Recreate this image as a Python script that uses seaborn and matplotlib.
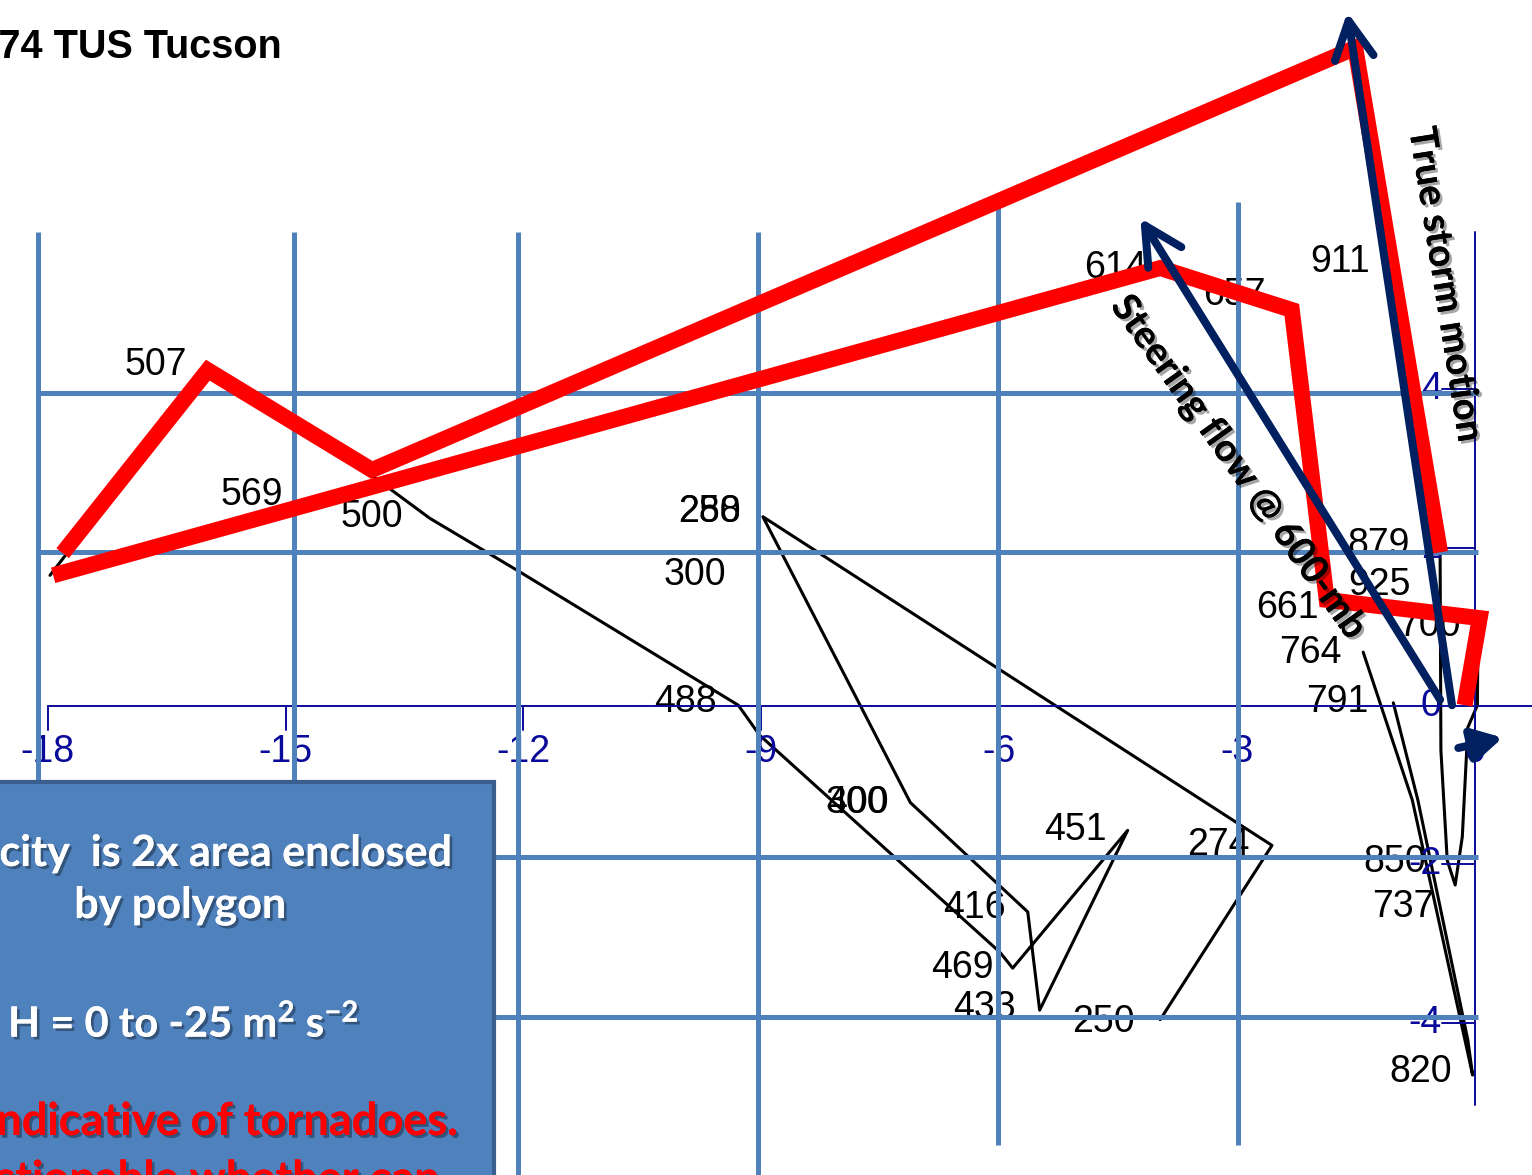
import matplotlib
matplotlib.use('Agg')
import matplotlib.pyplot as plt
import matplotlib.patheffects as pe
from matplotlib.patches import Rectangle
import seaborn as sns

# ==========================
# Hodograph data (m/s)
# ==========================
# upper levels, 500 mb down to 250 mb
upper_u = [-13.87, -13.18, -12.04, -9.29, -9.02, -5.99, -5.83, -4.38, -5.49, -5.64, -7.12, -8.98, -2.56, -3.97]
upper_v = [2.88, 2.37, 1.69, 0.01, -0.37, -3.11, -3.31, -1.57, -3.84, -2.60, -1.22, 2.39, -1.76, -3.96]
# mid levels (mostly under the red polygon)
mid_u = [-17.97, -15.95, -13.87]
mid_v = [1.65, 4.27, 2.88]
# low levels near the origin
low_u = [-0.44, -0.43, -0.35, -0.25, -0.16, -0.09, 0.03, 0.04]
low_v = [1.91, -0.56, -1.95, -2.26, -1.65, -0.27, 0.01, 1.09]
loop_u = [-1.41, -0.79, -0.03, -0.09, -0.72, -1.03]
loop_v = [0.68, -1.19, -4.66, -4.22, -1.19, 0.04]

level_lbl = ['507', '569', '500', '488', '300', '288', '400', '416', '469', '433', '451', '274', '250',
             '614', '657', '911', '879', '925', '700', '661', '764', '791', '850', '737', '820']
level_u = [-16.63, -15.42, -13.91, -9.96, -9.84, -9.65, -7.79, -6.31, -6.47, -6.18, -5.04, -3.24, -4.69,
           -4.54, -3.03, -1.70, -1.22, -1.20, -0.57, -2.36, -2.08, -1.74, -1.01, -0.91, -0.69]
level_v = [4.31, 2.66, 2.39, 0.05, 1.65, 2.45, -1.22, -2.55, -3.31, -3.81, -1.57, -1.76, -3.99,
           5.53, 5.19, 5.61, 2.03, 1.53, 1.01, 1.24, 0.67, 0.05, -1.97, -2.54, -4.62]
# overprinted labels
ghost_lbl = ['250', '300']
ghost_u = [-9.65, -7.79]
ghost_v = [2.45, -1.22]

# red helicity polygon
red1_u = [-17.81, -15.98, -13.91, -1.51, -0.44]
red1_v = [1.93, 4.24, 2.98, 8.31, 1.94]
red2_u = [-17.93, -3.97, -2.31, -1.87, 0.06, -0.13]
red2_v = [1.65, 5.53, 5.00, 1.34, 1.11, 0.01]

# arrows: (tail_u, tail_v, tip_u, tip_v)
steer_vec = (-0.44, 0.08, -4.22, 6.16)
storm_vec = (-0.29, 0.01, -1.61, 8.76)
small_vec = (-0.21, -0.53, 0.35, -0.40)

# axes / overlay grid
xticks = [-18, -15, -12, -9, -6, -3, 0]
yticks = [-4, -2, 0, 2, 4]
grid_x = [-18.12, -14.89, -12.07, -9.04, -6.02, -2.99]
grid_x_top = [5.98, 5.98, 5.98, 5.98, 6.36, 6.36]
grid_x_bot = [-6.0, -6.0, -6.0, -6.0, -5.54, -5.54]
grid_y = [3.95, 1.94, -1.91, -3.93]

# ==========================
# Figure
# ==========================
sns.set_theme(style='white')
plt.rcParams['font.family'] = ['Liberation Sans', 'DejaVu Sans']
plt.rcParams['mathtext.default'] = 'regular'

W, H = 1532, 1175
fig = plt.figure(figsize=(W / 100, H / 100), dpi=100)
ax = fig.add_axes([0, 0, 1, 1])
ax.set_xlim(-1475 / 79.3, (W - 1475) / 79.3)
ax.set_ylim((706 - H) / 79.2, 706 / 79.2)
ax.axis('off')

GRID = '#4F81BD'
NAVY = '#002060'
AXC = '#0A0A9A'
RED = '#FF0000'

# black hodograph
for uu, vv in [(mid_u, mid_v), (upper_u, upper_v), (low_u, low_v), (loop_u, loop_v)]:
    sns.lineplot(x=uu, y=vv, sort=False, estimator=None, color='black', lw=2.2, ax=ax, zorder=2)

for t, uu, vv in zip(level_lbl + ghost_lbl, level_u + ghost_u, level_v + ghost_v):
    ax.text(uu, vv, t, fontsize=27, ha='center', va='center', color='black', zorder=2)

# thin axes of the original hodograph
ax.plot([-18, 1.0], [0, 0], color=AXC, lw=1.4, zorder=2)
ax.plot([0, 0], [-5.04, 5.98], color=AXC, lw=1.4, zorder=2)
for t in xticks:
    ax.plot([t, t], [0, -0.3], color=AXC, lw=1.4, zorder=2)
    ax.text(t, -0.58, f'{t}', fontsize=27, ha='center', va='center', color=AXC, zorder=2)
for t in yticks:
    if t != 0:
        ax.plot([-0.42, 0], [t, t], color=AXC, lw=1.4, zorder=2)
    ax.text(-0.42, t, f'{t}', fontsize=27, ha='right', va='center', color=AXC, zorder=2)

# overlay grid
for gx, gt, gb in zip(grid_x, grid_x_top, grid_x_bot):
    ax.plot([gx, gx], [gb, gt], color=GRID, lw=3.6, zorder=3, solid_capstyle='butt')
for gy in grid_y:
    ax.plot([-18.12, 0.04], [gy, gy], color=GRID, lw=3.6, zorder=3, solid_capstyle='butt')

# red polygon
for uu, vv in [(red1_u, red1_v), (red2_u, red2_v)]:
    ax.plot(uu, vv, color=RED, lw=11.5, zorder=4, solid_joinstyle='miter', solid_capstyle='butt')

# navy arrows
for vec in [steer_vec, storm_vec]:
    ax.annotate('', xy=(vec[2], vec[3]), xytext=(vec[0], vec[1]),
                arrowprops=dict(arrowstyle='->,head_length=2.7,head_width=1.4', lw=5.8,
                                color=NAVY, shrinkA=0, shrinkB=0, mutation_scale=10,
                                capstyle='round'), zorder=5)
ax.annotate('', xy=(small_vec[2], small_vec[3]), xytext=(small_vec[0], small_vec[1]),
            arrowprops=dict(arrowstyle='-|>,head_length=1.8,head_width=1.0', lw=5.8,
                            color=NAVY, shrinkA=0, shrinkB=0, mutation_scale=10), zorder=5)

shadow = [pe.withSimplePatchShadow(offset=(2, -2), shadow_rgbFace='black', alpha=0.35), pe.Normal()]

# rotated annotations
ax.text(-2.98, 3.01, 'Steering flow @ 600-mb', fontsize=27.5, fontweight='bold', family=['Lato', 'DejaVu Sans'],
        rotation=-54.5, rotation_mode='anchor', ha='center', va='center', color='black',
        path_effects=shadow, zorder=6)
ax.text(-0.38, 5.32, 'True storm motion', fontsize=27.5, fontweight='bold', family=['Lato', 'DejaVu Sans'],
        rotation=-81, rotation_mode='anchor', ha='center', va='center', color='black',
        path_effects=shadow, zorder=6)

# title
fig.text(282 / W, 1 - 58 / H, '72274 TUS Tucson', fontsize=28.5, fontweight='bold',
         ha='right', va='baseline', color='black')

# text box
fig.patches.append(Rectangle((-0.01, -0.01), 494 / W + 0.01, (H - 782) / H + 0.01,
                             transform=fig.transFigure, facecolor='#4F81BD', edgecolor='#3A5F8E',
                             lw=3, zorder=7))
box_font = ['Lato', 'DejaVu Sans']
fig.text(452 / W, 1 - 866 / H, 'Helicity  is 2x area enclosed', fontsize=31, fontweight='bold',
         family=box_font, color='white', ha='right', va='baseline', path_effects=shadow, zorder=8)
fig.text(180 / W, 1 - 918 / H, 'by polygon', fontsize=31, fontweight='bold',
         family=box_font, color='white', ha='center', va='baseline', path_effects=shadow, zorder=8)
fig.text(8 / W, 1 - 1037 / H, 'H = 0 to -25 m$^2$ s$^{-2}$', fontsize=30, fontweight='bold',
         family=box_font, color='white', ha='left', va='baseline', path_effects=shadow, zorder=8)
fig.text(458 / W, 1 - 1135 / H, 'Not indicative of tornadoes.', fontsize=32.5, fontweight='bold',
         family=box_font, color=RED, ha='right', va='baseline', path_effects=shadow, zorder=8)
fig.text(440 / W, 1 - 1193 / H, 'Questionable whether can', fontsize=32.5, fontweight='bold',
         family=box_font, color=RED, ha='right', va='baseline', path_effects=shadow, zorder=8)

fig.savefig('out.png', dpi=100)
